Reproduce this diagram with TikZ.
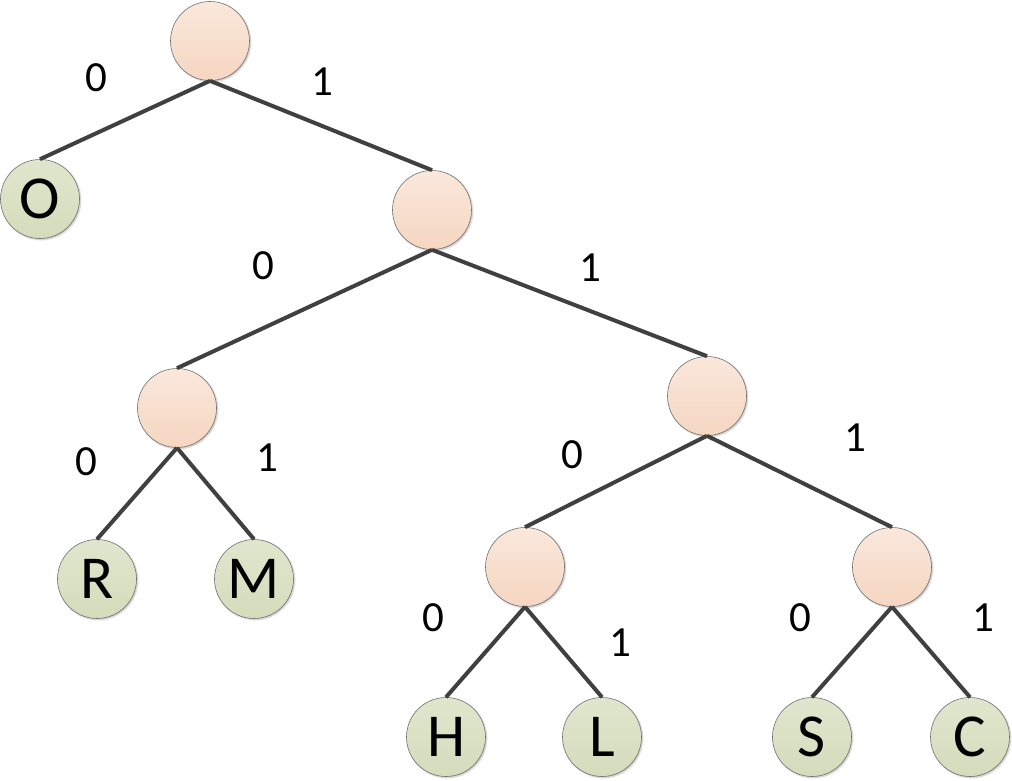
\documentclass[tikz,border=0pt]{standalone}
\usepackage{fontspec}
\setsansfont{Carlito}
\usepackage{tikz}
\usetikzlibrary{positioning, shadows.blur}

\definecolor{inntop}{HTML}{FAE8DC}
\definecolor{innbot}{HTML}{F5D6C1}
\definecolor{leaftop}{HTML}{DFE6CD}
\definecolor{leafbot}{HTML}{D5DCBC}
\definecolor{rim}{HTML}{707070}
\definecolor{edgecol}{HTML}{404040}

\begin{document}
\begin{tikzpicture}[
  x=1pt, y=-1pt,
  font=\sffamily,
  inner/.style={circle, draw=rim, line width=0.6pt, minimum size=79pt,
    inner sep=0pt, top color=inntop, bottom color=innbot,
    blur shadow={shadow xshift=1.2pt, shadow yshift=-1.2pt, shadow blur steps=4,
      shadow opacity=25, shadow blur radius=1.5pt}},
  leaf/.style={inner, top color=leaftop, bottom color=leafbot,
    font=\sffamily\fontsize{61}{61}\selectfont},
  bit/.style={font=\sffamily\fontsize{43}{43}\selectfont},
  branch/.style={draw=edgecol, line width=4pt},
]
  \useasboundingbox (0,0) rectangle (1012,781);

  % internal nodes
  \node[inner] (root) at (210,41) {};
  \node[inner] (n1) at (432,210) {};
  \node[inner] (n2) at (177,408) {};
  \node[inner] (n3) at (707,396) {};
  \node[inner] (n4) at (525,567) {};
  \node[inner] (n5) at (892,567) {};

  % leaves
  \node[leaf] (o) at (40,199) {O};
  \node[leaf] (r) at (97,579) {R};
  \node[leaf] (m) at (254,579) {M};
  \node[leaf] (h) at (446,737) {H};
  \node[leaf] (l) at (602,737) {L};
  \node[leaf] (s) at (812,737) {S};
  \node[leaf] (c) at (970,737) {C};

  % branches
  \draw[branch] (root.south) -- (o.north);
  \draw[branch] (root.south) -- (n1.north);
  \draw[branch] (n1.south) -- (n2.north);
  \draw[branch] (n1.south) -- (n3.north);
  \draw[branch] (n2.south) -- (r.north);
  \draw[branch] (n2.south) -- (m.north);
  \draw[branch] (n3.south) -- (n4.north);
  \draw[branch] (n3.south) -- (n5.north);
  \draw[branch] (n4.south) -- (h.north);
  \draw[branch] (n4.south) -- (l.north);
  \draw[branch] (n5.south) -- (s.north);
  \draw[branch] (n5.south) -- (c.north);

  % bit labels
  \node[bit] (root0) at (96,78) {0};
  \node[bit] (root1) at (322,82) {1};
  \node[bit] (n10) at (263,266) {0};
  \node[bit] (n11) at (590,268) {1};
  \node[bit] (n20) at (86,462) {0};
  \node[bit] (n21) at (267,458) {1};
  \node[bit] (n30) at (572,455) {0};
  \node[bit] (n31) at (855,438) {1};
  \node[bit] (n40) at (433,618) {0};
  \node[bit] (n41) at (620,643) {1};
  \node[bit] (n50) at (800,618) {0};
  \node[bit] (n51) at (983,618) {1};
\end{tikzpicture}
\end{document}
